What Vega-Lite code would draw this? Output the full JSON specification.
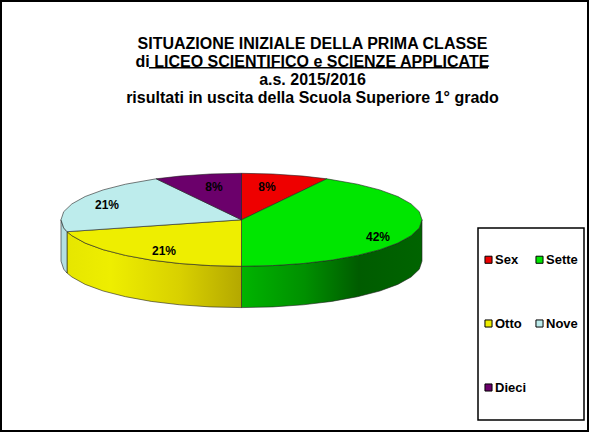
{
  "$schema": "https://vega.github.io/schema/vega-lite/v6.json",
  "width": 587,
  "height": 430,
  "autosize": {"type": "none"},
  "padding": {"left": 1, "top": 1, "right": 2, "bottom": 3},
  "background": "white",
  "config": {
    "view": {"stroke": "black", "strokeWidth": 2},
    "font": "Liberation Sans"
  },
  "title": {
    "text": [
      "SITUAZIONE INIZIALE DELLA PRIMA CLASSE",
      "di LICEO SCIENTIFICO e SCIENZE APPLICATE",
      "a.s. 2015/2016",
      "risultati in uscita della Scuola Superiore 1° grado"
    ],
    "font": "Liberation Sans",
    "fontSize": 16,
    "fontWeight": "bold",
    "color": "black",
    "lineHeight": 18,
    "anchor": "middle",
    "baseline": "alphabetic",
    "dx": 18,
    "dy": 122
  },
  "datasets": {
    "top": [
      {"slice":"Sex","i":0,"x":0,"y":0},{"slice":"Sex","i":1,"x":0,"y":46.5},{"slice":"Sex","i":2,"x":31.3,"y":45.8},{"slice":"Sex","i":3,"x":61.7,"y":43.7},{"slice":"Sex","i":4,"x":85.3,"y":41},{"slice":"Sex","i":5,"x":0,"y":0},
      {"slice":"Sette","i":0,"x":0,"y":0},{"slice":"Sette","i":1,"x":85.3,"y":41},{"slice":"Sette","i":2,"x":116,"y":35.6},{"slice":"Sette","i":3,"x":138.3,"y":29.9},{"slice":"Sette","i":4,"x":156.3,"y":23.3},{"slice":"Sette","i":5,"x":169.6,"y":15.9},{"slice":"Sette","i":6,"x":177.8,"y":8.1},{"slice":"Sette","i":7,"x":180.5,"y":0},{"slice":"Sette","i":8,"x":177.8,"y":-8.1},{"slice":"Sette","i":9,"x":169.6,"y":-15.9},{"slice":"Sette","i":10,"x":156.3,"y":-23.3},{"slice":"Sette","i":11,"x":138.3,"y":-29.9},{"slice":"Sette","i":12,"x":116,"y":-35.6},{"slice":"Sette","i":13,"x":90.3,"y":-40.3},{"slice":"Sette","i":14,"x":61.7,"y":-43.7},{"slice":"Sette","i":15,"x":31.3,"y":-45.8},{"slice":"Sette","i":16,"x":0,"y":-46.5},{"slice":"Sette","i":17,"x":0,"y":0},
      {"slice":"Otto","i":0,"x":0,"y":0},{"slice":"Otto","i":1,"x":0,"y":-46.5},{"slice":"Otto","i":2,"x":-31.3,"y":-45.8},{"slice":"Otto","i":3,"x":-61.7,"y":-43.7},{"slice":"Otto","i":4,"x":-90.3,"y":-40.3},{"slice":"Otto","i":5,"x":-116,"y":-35.6},{"slice":"Otto","i":6,"x":-138.3,"y":-29.9},{"slice":"Otto","i":7,"x":-156.3,"y":-23.3},{"slice":"Otto","i":8,"x":-169.6,"y":-15.9},{"slice":"Otto","i":9,"x":-174.5,"y":-11.9},{"slice":"Otto","i":10,"x":0,"y":0},
      {"slice":"Nove","i":0,"x":0,"y":0},{"slice":"Nove","i":1,"x":-174.5,"y":-11.9},{"slice":"Nove","i":2,"x":-177.8,"y":-8.1},{"slice":"Nove","i":3,"x":-180.5,"y":0},{"slice":"Nove","i":4,"x":-177.8,"y":8.1},{"slice":"Nove","i":5,"x":-169.6,"y":15.9},{"slice":"Nove","i":6,"x":-156.3,"y":23.3},{"slice":"Nove","i":7,"x":-138.3,"y":29.9},{"slice":"Nove","i":8,"x":-116,"y":35.6},{"slice":"Nove","i":9,"x":-85.3,"y":41},{"slice":"Nove","i":10,"x":0,"y":0},
      {"slice":"Dieci","i":0,"x":0,"y":0},{"slice":"Dieci","i":1,"x":-85.3,"y":41},{"slice":"Dieci","i":2,"x":-61.7,"y":43.7},{"slice":"Dieci","i":3,"x":-31.3,"y":45.8},{"slice":"Dieci","i":4,"x":0,"y":46.5},{"slice":"Dieci","i":5,"x":0,"y":0}
    ],
    "sides": [
      {"slice":"Sette","i":0,"x":180.5,"y":0},{"slice":"Sette","i":1,"x":177.8,"y":-8.1},{"slice":"Sette","i":2,"x":169.6,"y":-15.9},{"slice":"Sette","i":3,"x":156.3,"y":-23.3},{"slice":"Sette","i":4,"x":138.3,"y":-29.9},{"slice":"Sette","i":5,"x":116,"y":-35.6},{"slice":"Sette","i":6,"x":90.3,"y":-40.3},{"slice":"Sette","i":7,"x":61.7,"y":-43.7},{"slice":"Sette","i":8,"x":31.3,"y":-45.8},{"slice":"Sette","i":9,"x":0,"y":-46.5},
      {"slice":"Sette","i":10,"x":0,"y":-87.8},{"slice":"Sette","i":11,"x":31.3,"y":-87.1},{"slice":"Sette","i":12,"x":61.7,"y":-85},{"slice":"Sette","i":13,"x":90.3,"y":-81.6},{"slice":"Sette","i":14,"x":116,"y":-76.9},{"slice":"Sette","i":15,"x":138.3,"y":-71.2},{"slice":"Sette","i":16,"x":156.3,"y":-64.6},{"slice":"Sette","i":17,"x":169.6,"y":-57.2},{"slice":"Sette","i":18,"x":177.8,"y":-49.4},{"slice":"Sette","i":19,"x":180.5,"y":-41.3},{"slice":"Sette","i":20,"x":180.5,"y":0},
      {"slice":"Otto","i":0,"x":0,"y":-46.5},{"slice":"Otto","i":1,"x":-31.3,"y":-45.8},{"slice":"Otto","i":2,"x":-61.7,"y":-43.7},{"slice":"Otto","i":3,"x":-90.3,"y":-40.3},{"slice":"Otto","i":4,"x":-116,"y":-35.6},{"slice":"Otto","i":5,"x":-138.3,"y":-29.9},{"slice":"Otto","i":6,"x":-156.3,"y":-23.3},{"slice":"Otto","i":7,"x":-169.6,"y":-15.9},{"slice":"Otto","i":8,"x":-174.5,"y":-11.9},
      {"slice":"Otto","i":9,"x":-174.5,"y":-53.2},{"slice":"Otto","i":10,"x":-169.6,"y":-57.2},{"slice":"Otto","i":11,"x":-156.3,"y":-64.6},{"slice":"Otto","i":12,"x":-138.3,"y":-71.2},{"slice":"Otto","i":13,"x":-116,"y":-76.9},{"slice":"Otto","i":14,"x":-90.3,"y":-81.6},{"slice":"Otto","i":15,"x":-61.7,"y":-85},{"slice":"Otto","i":16,"x":-31.3,"y":-87.1},{"slice":"Otto","i":17,"x":0,"y":-87.8},{"slice":"Otto","i":18,"x":0,"y":-46.5},
      {"slice":"Nove","i":0,"x":-174.5,"y":-11.9},{"slice":"Nove","i":1,"x":-177.8,"y":-8.1},{"slice":"Nove","i":2,"x":-180.5,"y":0},{"slice":"Nove","i":3,"x":-180.5,"y":-41.3},{"slice":"Nove","i":4,"x":-177.8,"y":-49.4},{"slice":"Nove","i":5,"x":-174.5,"y":-53.2},{"slice":"Nove","i":6,"x":-174.5,"y":-11.9}
    ],
    "labels": [
      {"slice":"Sex","share":0.0833,"x":25.5,"y":32.8},
      {"slice":"Sette","share":0.4167,"x":136.5,"y":-17.2},
      {"slice":"Otto","share":0.2083,"x":-77.5,"y":-31.2},
      {"slice":"Nove","share":0.2083,"x":-134.5,"y":14.8},
      {"slice":"Dieci","share":0.0833,"x":-27.5,"y":32.8}
    ]
  },
  "encoding": {
    "x": {"field": "x", "type": "quantitative", "axis": null, "scale": {"domain": [-240.5, 346.5], "nice": false, "zero": false}},
    "y": {"field": "y", "type": "quantitative", "axis": null, "scale": {"domain": [-211.2, 218.8], "nice": false, "zero": false}}
  },
  "layer": [
    {
      "data": {"name": "sides"},
      "transform": [{"filter": "datum.slice === 'Sette'"}],
      "mark": {
        "type": "line", "strokeWidth": 0.6, "stroke": "#222",
        "fill": {"gradient": "linear", "x1": 0, "x2": 1, "y1": 0, "y2": 0, "stops": [
          {"offset": 0, "color": "#00b400"},
          {"offset": 0.35, "color": "#009000"},
          {"offset": 0.65, "color": "#005c00"},
          {"offset": 1, "color": "#006400"}
        ]}
      },
      "encoding": {"order": {"field": "i"}}
    },
    {
      "data": {"name": "sides"},
      "transform": [{"filter": "datum.slice === 'Otto'"}],
      "mark": {
        "type": "line", "strokeWidth": 0.6, "stroke": "#222",
        "fill": {"gradient": "linear", "x1": 0, "x2": 1, "y1": 0, "y2": 0, "stops": [
          {"offset": 0, "color": "#e6e600"},
          {"offset": 0.25, "color": "#eeee00"},
          {"offset": 0.65, "color": "#d8d000"},
          {"offset": 1, "color": "#b4a800"}
        ]}
      },
      "encoding": {"order": {"field": "i"}}
    },
    {
      "data": {"name": "sides"},
      "transform": [{"filter": "datum.slice === 'Nove'"}],
      "mark": {"type": "line", "strokeWidth": 0.6, "stroke": "#222", "fill": "#b4dfe2"},
      "encoding": {"order": {"field": "i"}}
    },
    {
      "data": {"name": "top"},
      "mark": {"type": "line", "filled": true, "strokeWidth": 0.6, "stroke": "#222"},
      "encoding": {
        "order": {"field": "i"},
        "color": {
          "field": "slice",
          "type": "nominal",
          "scale": {
            "domain": ["Sex", "Sette", "Otto", "Nove", "Dieci"],
            "range": ["#ee0000", "#00e600", "#eeee00", "#bdecec", "#6b006b"]
          },
          "legend": {
            "title": null,
            "orient": "none",
            "direction": "horizontal",
            "legendX": 481,
            "legendY": 252,
            "zindex": 1,
            "columns": 2,
            "columnPadding": 6,
            "rowPadding": 50,
            "symbolType": "square",
            "symbolSize": 50,
            "symbolStrokeColor": "black",
            "symbolStrokeWidth": 1,
            "labelFont": "Liberation Sans",
            "labelFontSize": 13,
            "labelFontWeight": "bold",
            "labelColor": "black",
            "labelOffset": 0
          }
        }
      }
    },
    {
      "data": {"name": "labels"},
      "mark": {"type": "text", "font": "Liberation Sans", "fontSize": 12, "fontWeight": "bold", "color": "black"},
      "encoding": {"text": {"field": "share", "type": "quantitative", "format": ".0%"}}
    },
    {
      "data": {"values": [{"x": -92.5, "x2": 246.5, "y": 152.1}]},
      "mark": {"type": "rule", "color": "black", "strokeWidth": 1.5},
      "encoding": {"x2": {"field": "x2"}}
    },
    {
      "data": {"values": [{"x": 236.5, "x2": 342.5, "y": -8.2, "y2": -200.2}]},
      "mark": {"type": "rect", "fill": "white", "stroke": "black", "strokeWidth": 1.5},
      "encoding": {"x2": {"field": "x2"}, "y2": {"field": "y2"}}
    }
  ]
}
